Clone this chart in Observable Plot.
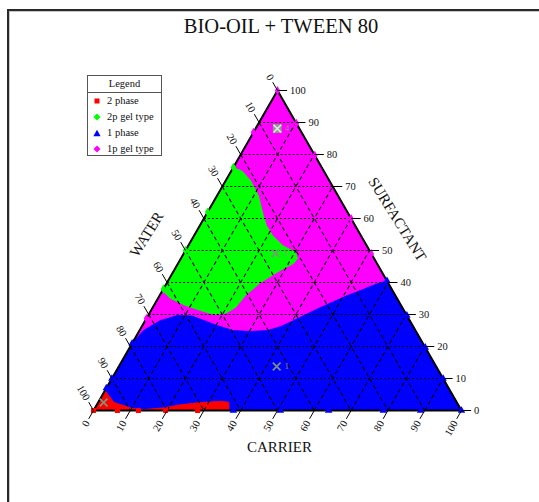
<!DOCTYPE html>
<html><head><meta charset="utf-8">
<script src="https://cdn.jsdelivr.net/npm/d3@7"></script>
<script src="https://cdn.jsdelivr.net/npm/@observablehq/plot@0.6"></script>
<style>
body{margin:0;background:#fff;}
#wrap{position:relative;width:539px;height:502px;overflow:hidden;font-family:"Liberation Serif","Times New Roman",serif;color:#111;}
#chart{position:absolute;left:0;top:0;}
.fr{position:absolute;background:#2a2a2a;}
.frs{position:absolute;background:#c8c8c8;}
#title{position:absolute;left:0;width:562px;top:15px;text-align:center;font-size:20.5px;}
.atitle{position:absolute;font-size:15px;white-space:nowrap;transform-origin:center center;}
#legend{position:absolute;left:87px;top:75px;width:73px;height:79px;border:1.5px solid #555;background:#fff;font-size:10.5px;}
#legend .lh{height:15.5px;line-height:15.5px;text-align:center;border-bottom:1.5px solid #555;}
#legend .row{height:16px;line-height:16px;position:relative;padding-left:19px;}
#legend .row svg{position:absolute;left:5px;top:4px;}
</style></head>
<body><div id="wrap">
<div id="chart"></div>
<div class="fr" style="left:7px;top:9px;width:532px;height:2px"></div>
<div class="fr" style="left:7px;top:9px;width:2px;height:493px"></div>
<div class="frs" style="left:9px;top:11px;width:530px;height:1px"></div>
<div class="frs" style="left:9px;top:11px;width:1px;height:491px"></div>
<div id="title">BIO-OIL + TWEEN 80</div>
<div class="atitle" id="tB" style="left:247px;top:439px;">CARRIER</div>
<div class="atitle" id="tL" style="left:122px;top:226px;transform:rotate(-58deg);">WATER</div>
<div class="atitle" id="tR" style="left:349px;top:211px;transform:rotate(58deg);">SURFACTANT</div>
<div id="legend"><div class="lh">Legend</div></div>
</div>
<script>
// ---- data (ternary: [carrier, surfactant]; water = 100 - carrier - surfactant)
const tickValues = [0,10,20,30,40,50,60,70,80,90,100];
const gridLevels = [10,20,30,40,50,60,70,80,90];

const phaseNames = ["2 phase","2p gel type","1 phase","1p gel type"];
const phaseColors = ["#ff0000","#00ff00","#0000ff","#ff00ff"];
const phaseSymbols = ["square","diamond","triangle","diamond"];

// region boundaries
const gelOneRegion = [[0,0],[100,0],[0,100]];
const gelTwoRegion = [[0,76],[3,74.8],[6.7,71.9],[11.2,67.2],[15.7,60.9],[18.1,57.8],[21.3,54.7],[25.6,51.6],[30.2,49.4],[31.7,47.5],[31.4,45.9],[28.9,43.8],[25.4,40],[23.3,35.9],[22.5,32.2],[20.7,30.3],[17.6,30],[13.5,31.25],[8.6,32.8],[3.4,35],[0,37.5]];
const onePhaseRegion = [[0,21],[1.1,25],[4.1,28.1],[8,29.7],[12,29.5],[15.5,28.3],[20.5,26.5],[25.5,25],[30.3,24.7],[34.8,25],[37.7,26.2],[40.3,28.1],[45.6,32.2],[51,35.9],[53.8,37.5],[56.9,39.4],[59.5,40.5],[100,0],[0,0]];
const twoPhaseRegion = [[0,0],[0,6.25],[4.2,2.6],[9.6,0.84],[12.7,0.2],[18.7,0.84],[22.7,1.8],[27,2.4],[33.1,2.9],[35.5,2.6],[36.8,0]];

// composition points
const twoPhasePts = [[0,0],[6.5,0],[12.2,0],[19.6,0],[28.3,0]];
const gelTwoPts = [[0,76],[0,62],[0,50],[0,38]];
const onePhasePts = [[38,0],[50.8,0],[63.9,0],[78.8,0],[88.9,0],[100,0],[59.5,40.5],[70.3,29.7],[80.3,19.7],[90,10],[0,7],[0,10],[0,21]];
const gelOnePts = [[0,100],[0,86.9],[0,28.75],[10.3,89.7],[20.3,79.7],[40,60],[51,49]];

// sample marks
const sampleC = [5.9,24.9,42.9,1.5];
const sampleS = [88.1,49.1,13.75,2.5];
const sampleLabel = ["4","3","1",""];

// ---- helpers
const X = d => d[0] + d[1]/2;
const Y = d => d[1];
const samples = sampleC.map((c,i)=>({c, s:sampleS[i], label:sampleLabel[i], i}));
const tl = 2.6, lo = 3.4; // tick length / label offset (data units)

const regions = [
  [gelOneRegion, phaseColors[3]],
  [gelTwoRegion, phaseColors[1]],
  [onePhaseRegion, phaseColors[2]],
  [twoPhaseRegion, phaseColors[0]]
];
const pointSets = [twoPhasePts, gelTwoPts, onePhasePts, gelOnePts];

const marks = [];
for (const [reg,col] of regions) {
  marks.push(Plot.line([...reg, reg[0]], {x:X, y:Y, fill:col, stroke:col, strokeWidth:0.8}));
}
// grid
marks.push(Plot.link(gridLevels, {x1:k=>k/2, y1:k=>k, x2:k=>100-k/2, y2:k=>k, stroke:"#000", strokeWidth:1.1, strokeDasharray:"2,2"}));
marks.push(Plot.link(gridLevels, {x1:k=>k, y1:0, x2:k=>k+(100-k)/2, y2:k=>100-k, stroke:"#000", strokeWidth:1.1, strokeDasharray:"4,3"}));
marks.push(Plot.link(gridLevels, {x1:k=>(100-k)/2, y1:k=>100-k, x2:k=>100-k, y2:0, stroke:"#000", strokeWidth:1.1, strokeDasharray:"4,3"}));
// border
marks.push(Plot.line([[0,0],[100,0],[0,100],[0,0]], {x:X, y:Y, stroke:"#000", strokeWidth:2}));
// points
pointSets.forEach((pts,i)=>{
  marks.push(Plot.dot(pts, {x:X, y:Y, symbol:phaseSymbols[i], r:2.8, fill:phaseColors[i], stroke:"none"}));
});
// ticks
marks.push(Plot.link(tickValues, {x1:t=>t, y1:0, x2:t=>t-tl/2, y2:-tl, stroke:"#000", strokeWidth:1}));
marks.push(Plot.link(tickValues, {x1:t=>(100-t)/2, y1:t=>100-t, x2:t=>(100-t)/2-tl/2, y2:t=>100-t+tl, stroke:"#000", strokeWidth:1}));
marks.push(Plot.link(tickValues, {x1:t=>100-t/2, y1:t=>t, x2:t=>100-t/2+tl, y2:t=>t, stroke:"#000", strokeWidth:1}));
// tick labels
const lab = {fontSize:10.5, fill:"#111", fontFamily:"Liberation Serif, serif"};
marks.push(Plot.text(tickValues, {x:t=>t-lo/2, y:-lo, text:t=>String(t), rotate:-60, textAnchor:"end", lineAnchor:"middle", ...lab}));
marks.push(Plot.text(tickValues, {x:t=>(100-t)/2-lo/2, y:t=>100-t+lo, text:t=>String(t), rotate:60, textAnchor:"end", lineAnchor:"middle", ...lab}));
marks.push(Plot.text(tickValues, {x:t=>100-t/2+lo, y:t=>t, text:t=>String(t), textAnchor:"start", lineAnchor:"middle", ...lab}));
// samples
marks.push(Plot.dot(samples.filter(d=>d.i===0), {x:d=>d.c+d.s/2, y:d=>d.s, symbol:"square", r:5, fill:"#8c9c8c", stroke:"none"}));
marks.push(Plot.dot(samples, {x:d=>d.c+d.s/2, y:d=>d.s, symbol:"times", r:3.6, stroke:d=>d.i===0?"#e8e8e8":"#7d957d", strokeWidth:1.6}));
marks.push(Plot.text(samples, {x:d=>d.c+d.s/2, y:d=>d.s, text:"label", dx:8, fontSize:8, fill:"#8a9a8a", textAnchor:"start"}));

const chart = Plot.plot({
  width:539, height:502,
  marginLeft:93, marginRight:78, marginTop:90, marginBottom:92,
  x:{domain:[0,100], axis:null},
  y:{domain:[0,100], axis:null},
  style:{background:"transparent", fontFamily:"Liberation Serif, serif"},
  marks
});
document.getElementById("chart").appendChild(chart);

// legend
const leg = document.getElementById("legend");
const shapes = {
  square: c => `<rect x="1.5" y="1.5" width="5" height="5" fill="${c}"/>`,
  diamond: c => `<polygon points="4,0.5 7.5,4 4,7.5 0.5,4" fill="${c}"/>`,
  triangle: c => `<polygon points="4,0.8 7.6,7.2 0.4,7.2" fill="${c}"/>`
};
phaseNames.forEach((n,i)=>{
  const r = document.createElement("div");
  r.className = "row";
  r.innerHTML = `<svg width="8" height="8">${shapes[phaseSymbols[i]](phaseColors[i])}</svg>${n}`;
  leg.appendChild(r);
});
</script>
</body></html>
